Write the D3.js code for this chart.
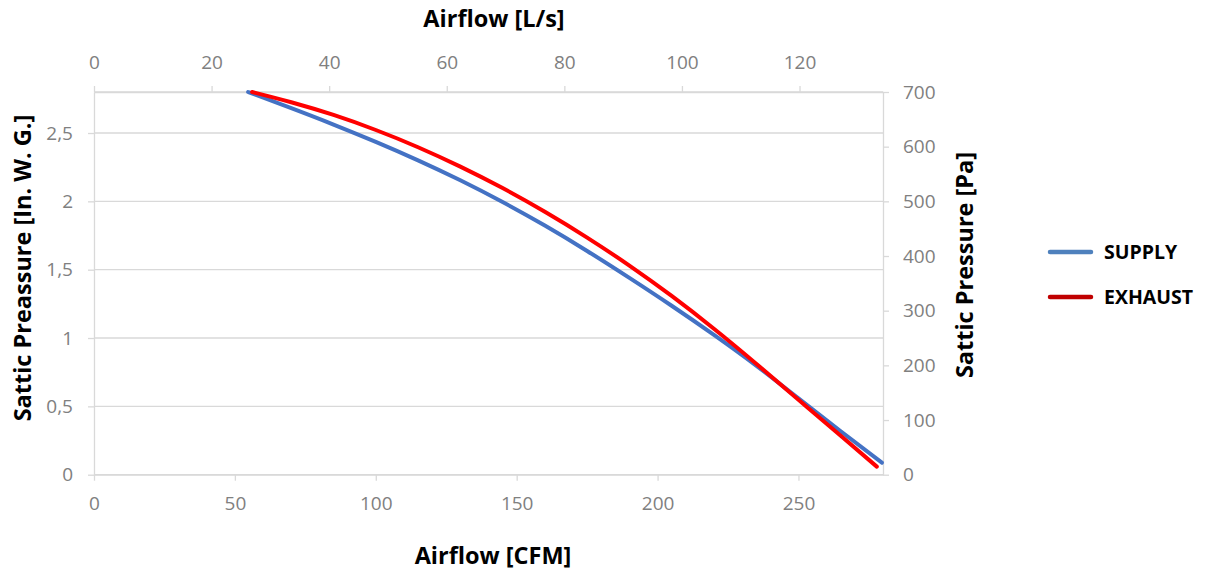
<!DOCTYPE html>
<html>
<head>
<meta charset="utf-8">
<script src="https://cdn.jsdelivr.net/npm/d3@7/dist/d3.min.js"></script>
<style>
  html, body { margin: 0; padding: 0; background: #fff; }
  svg { display: block; font-family: "Open Sans", "Noto Sans", sans-serif; }
</style>
</head>
<body>
<svg id="chart" width="1207" height="571"></svg>
<script>
// ---- data ----
const seriesNames = ["SUPPLY", "EXHAUST"];
// Airflow [CFM] and static pressure [In. W. G.]
const supplyCFM  = [54.7, 70, 85, 100, 115, 130, 145, 160, 175, 190, 205, 220, 235, 250, 265, 279.6];
const supplyInWG = [2.80, 2.682, 2.562, 2.435, 2.300, 2.154, 1.995, 1.823, 1.637, 1.44, 1.236, 1.023, 0.798, 0.558, 0.318, 0.088];
const exhaustCFM  = [56.1, 70, 85, 100, 115, 130, 145, 160, 175, 190, 205, 220, 235, 250, 265, 277.8];
const exhaustInWG = [2.80, 2.725, 2.632, 2.522, 2.396, 2.254, 2.097, 1.924, 1.735, 1.53, 1.308, 1.068, 0.812, 0.548, 0.285, 0.059];

const bottomTicks = [0, 50, 100, 150, 200, 250];
const topTicks = [0, 20, 40, 60, 80, 100, 120];
const leftTicks = [0, 0.5, 1, 1.5, 2, 2.5];
const rightTicks = [0, 100, 200, 300, 400, 500, 600, 700];

const cfmMax = 280, lsMax = 134.2, inMax = 2.8, paMax = 700;

// ---- layout ----
const svg = d3.select("#chart");
const L = 94, R = 883, T = 92, B = 474.7;
const gridCol = "#d9d9d9", tickTextCol = "#808080";

const x = d3.scaleLinear().domain([0, cfmMax]).range([L, R]);
const xTop = d3.scaleLinear().domain([0, lsMax]).range([L, R]);
const y = d3.scaleLinear().domain([0, inMax]).range([B, T]);
const yR = d3.scaleLinear().domain([0, paMax]).range([B, T]);

// gridlines (left axis)
svg.append("g").selectAll("line").data(leftTicks.concat([inMax])).join("line")
  .attr("x1", L).attr("x2", R)
  .attr("y1", d => y(d)).attr("y2", d => y(d))
  .attr("stroke", gridCol).attr("stroke-width", 1.3);

function styleAxis(g) {
  g.select(".domain").attr("stroke", gridCol).attr("stroke-width", 1.3);
  g.selectAll(".tick line").attr("stroke", gridCol).attr("stroke-width", 1.3);
  g.selectAll(".tick text").attr("fill", tickTextCol).attr("font-size", "19px")
    .attr("font-family", "'Open Sans', 'Noto Sans', sans-serif");
}
const fmt = d => String(d).replace(".", ",");

svg.append("g").attr("transform", `translate(0,${B})`)
  .call(d3.axisBottom(x).tickValues(bottomTicks).tickSize(6).tickPadding(16).tickSizeOuter(0))
  .call(styleAxis);
svg.append("g").attr("transform", `translate(0,${T})`)
  .call(d3.axisTop(xTop).tickValues(topTicks).tickSize(6).tickPadding(17).tickSizeOuter(0))
  .call(styleAxis);
svg.append("g").attr("transform", `translate(${L},0)`)
  .call(d3.axisLeft(y).tickValues(leftTicks).tickFormat(fmt).tickSize(6).tickPadding(15).tickSizeOuter(0))
  .call(styleAxis);
svg.append("g").attr("transform", `translate(${R},0)`)
  .call(d3.axisRight(yR).tickValues(rightTicks).tickSize(6).tickPadding(14).tickSizeOuter(0))
  .call(styleAxis);

// ---- lines ----
const line = d3.line().x(d => x(d[0])).y(d => y(d[1])).curve(d3.curveNatural);
const supplyPts = d3.zip(supplyCFM, supplyInWG);
const exhaustPts = d3.zip(exhaustCFM, exhaustInWG);

svg.append("path").datum(supplyPts).attr("d", line)
  .attr("fill", "none").attr("stroke", "#4472C4").attr("stroke-width", 4).attr("stroke-linecap", "round");
svg.append("path").datum(exhaustPts).attr("d", line)
  .attr("fill", "none").attr("stroke", "#FF0000").attr("stroke-width", 4).attr("stroke-linecap", "round");

// ---- axis titles ----
const titleStyle = t => t.attr("font-weight", "bold").attr("font-size", "23.5px").attr("fill", "#000")
  .attr("text-anchor", "middle");
svg.append("text").attr("x", 494).attr("y", 27).text("Airflow [L/s]").call(titleStyle);
svg.append("text").attr("x", 493).attr("y", 564).text("Airflow [CFM]").call(titleStyle);
svg.append("text").attr("transform", "translate(31,268) rotate(-90)").text("Sattic Preassure [In. W. G.]").call(titleStyle);
svg.append("text").attr("transform", "translate(973,265) rotate(-90)").text("Sattic Pressure [Pa]").call(titleStyle);

// ---- legend ----
const legendCols = ["#4F81BD", "#C00000"];
const lg = svg.append("g");
seriesNames.forEach((name, i) => {
  const cy = 252 + i * 45;
  lg.append("line").attr("x1", 1050).attr("x2", 1091).attr("y1", cy).attr("y2", cy)
    .attr("stroke", legendCols[i]).attr("stroke-width", 4.5).attr("stroke-linecap", "round");
  lg.append("text").attr("x", 1104).attr("y", cy + 7).text(name)
    .attr("font-weight", "bold").attr("font-size", "19.5px").attr("fill", "#000");
});
</script>
</body>
</html>
